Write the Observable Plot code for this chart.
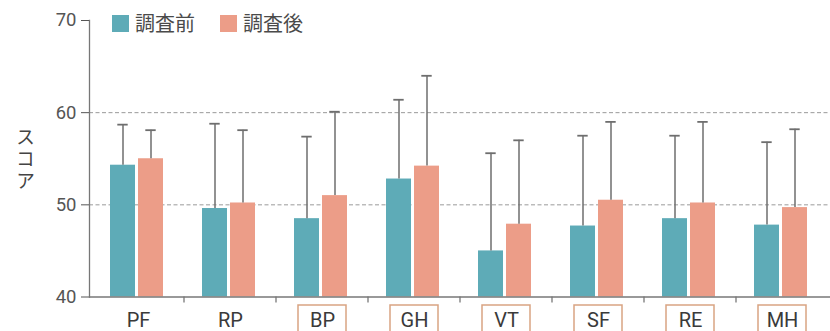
<!DOCTYPE html>
<html><head><meta charset="utf-8">
<script src="https://cdn.jsdelivr.net/npm/d3@7"></script>
<script src="https://cdn.jsdelivr.net/npm/@observablehq/plot@0.6"></script>
<style>
body{margin:0;background:#fff;}
#wrap{position:relative;width:830px;height:331px;overflow:hidden;font-family:Roboto,"Noto Sans CJK JP",sans-serif;}
.legend{position:absolute;left:112px;top:12px;display:flex;align-items:center;font-size:20px;color:#4a4a4a;font-family:"Noto Sans CJK JP",sans-serif;line-height:22px;}
.legend .item{display:flex;align-items:center;margin-right:25px;}
.sw{width:17px;height:17px;display:inline-block;margin-right:6px;}
.ylab{position:absolute;left:12px;top:127px;writing-mode:vertical-rl;text-orientation:upright;font-size:19px;color:#444;font-family:"Noto Sans CJK JP",sans-serif;letter-spacing:3px;}
#wrap g[aria-label="x-axis tick label"] text{font-size:20px;}
#wrap g[aria-label="y-axis tick label"] text{font-size:18.5px;}
</style></head><body><div id="wrap"></div>
<script>
const categories = ["PF","RP","BP","GH","VT","SF","RE","MH"];
const boxedCategories = ["BP","GH","VT","SF","RE","MH"];
const seriesNames = ["調査前","調査後"];
const beforeMean = [54.3, 49.6, 48.5, 52.8, 45.0, 47.7, 48.5, 47.8];
const beforeSD   = [4.4, 9.2, 8.9, 8.6, 10.6, 9.8, 9.0, 9.0];
const afterMean  = [55.0, 50.2, 51.0, 54.2, 47.9, 50.5, 50.2, 49.7];
const afterSD    = [3.1, 7.9, 9.1, 9.8, 9.1, 8.5, 8.8, 8.5];
const yTicks = [40, 50, 60, 70];
const gridValues = [50, 60];
const yLabel = "スコア";
const colors = ["#5eabb7", "#ec9d88"];

const before = categories.map((c, i) => ({category: c, series: seriesNames[0], mean: beforeMean[i], upper: beforeMean[i] + beforeSD[i]}));
const after = categories.map((c, i) => ({category: c, series: seriesNames[1], mean: afterMean[i], upper: afterMean[i] + afterSD[i]}));
const base = yTicks[0];

const plot = Plot.plot({
  width: 830,
  height: 331,
  marginLeft: 89,
  marginRight: 0,
  marginTop: 20,
  marginBottom: 34.5,
  style: {fontFamily: "Roboto, 'Noto Sans CJK JP', sans-serif", fontSize: "18px", background: "#fff"},
  x: {domain: categories, padding: 0, label: null},
  y: {domain: [40, 70], label: null},
  marks: [
    Plot.ruleY(gridValues, {stroke: "#9a9a9a", strokeDasharray: "4,2.5", strokeWidth: 1}),
    Plot.barY(before, {x: "category", y1: base, y2: "mean", fill: colors[0], insetLeft: 18, insetRight: 49}),
    Plot.barY(after, {x: "category", y1: base, y2: "mean", fill: colors[1], insetLeft: 46, insetRight: 21}),
    Plot.ruleX(before, {x: "category", y1: "mean", y2: "upper", dx: -15.5, stroke: "#6e6e6e", strokeWidth: 1.5}),
    Plot.ruleX(after, {x: "category", y1: "mean", y2: "upper", dx: 12.5, stroke: "#6e6e6e", strokeWidth: 1.5}),
    Plot.tickY(before, {x: "category", y: "upper", insetLeft: 25.3, insetRight: 56.3, stroke: "#6e6e6e", strokeWidth: 1.8}),
    Plot.tickY(after, {x: "category", y: "upper", insetLeft: 53.3, insetRight: 28.3, stroke: "#6e6e6e", strokeWidth: 1.8}),
    Plot.ruleY([base], {stroke: "#777", strokeWidth: 1.3}),
    Plot.frame({anchor: "left", stroke: "#777", strokeWidth: 1.3}),
    Plot.axisY({ticks: yTicks, tickSize: 8, tickPadding: 5, color: "#555", label: null}),
    Plot.axisX({tickSize: 0, tickPadding: 16, color: "#3a3a3a", label: null})
  ]
});

const wrap = document.getElementById("wrap");
wrap.appendChild(plot);

// category boundary ticks and boxes around labels, positioned with the plot's x scale
const xs = plot.scale("x");
const svg = d3.select(plot);
const yBase = plot.scale("y").apply(base);
const g = svg.append("g");
categories.forEach((c, i) => {
  const start = xs.apply(c);
  if (i > 0) {
    g.append("line").attr("x1", start).attr("x2", start).attr("y1", yBase).attr("y2", yBase + 6)
      .attr("stroke", "#777").attr("stroke-width", 1.3);
  }
  if (boxedCategories.includes(c)) {
    const cx = start + xs.bandwidth / 2;
    g.append("rect").attr("x", cx - 24).attr("y", yBase + 8.5).attr("width", 48).attr("height", 40)
      .attr("fill", "none").attr("stroke", "#d9a482").attr("stroke-width", 1.5);
  }
});

// legend overlay
const legend = document.createElement("div");
legend.className = "legend";
seriesNames.forEach((s, i) => {
  const item = document.createElement("span");
  item.className = "item";
  const sw = document.createElement("span");
  sw.className = "sw";
  sw.style.background = colors[i];
  item.appendChild(sw);
  item.appendChild(document.createTextNode(s));
  legend.appendChild(item);
});
wrap.appendChild(legend);

const yl = document.createElement("div");
yl.className = "ylab";
yl.textContent = yLabel;
wrap.appendChild(yl);
</script>
</body></html>
